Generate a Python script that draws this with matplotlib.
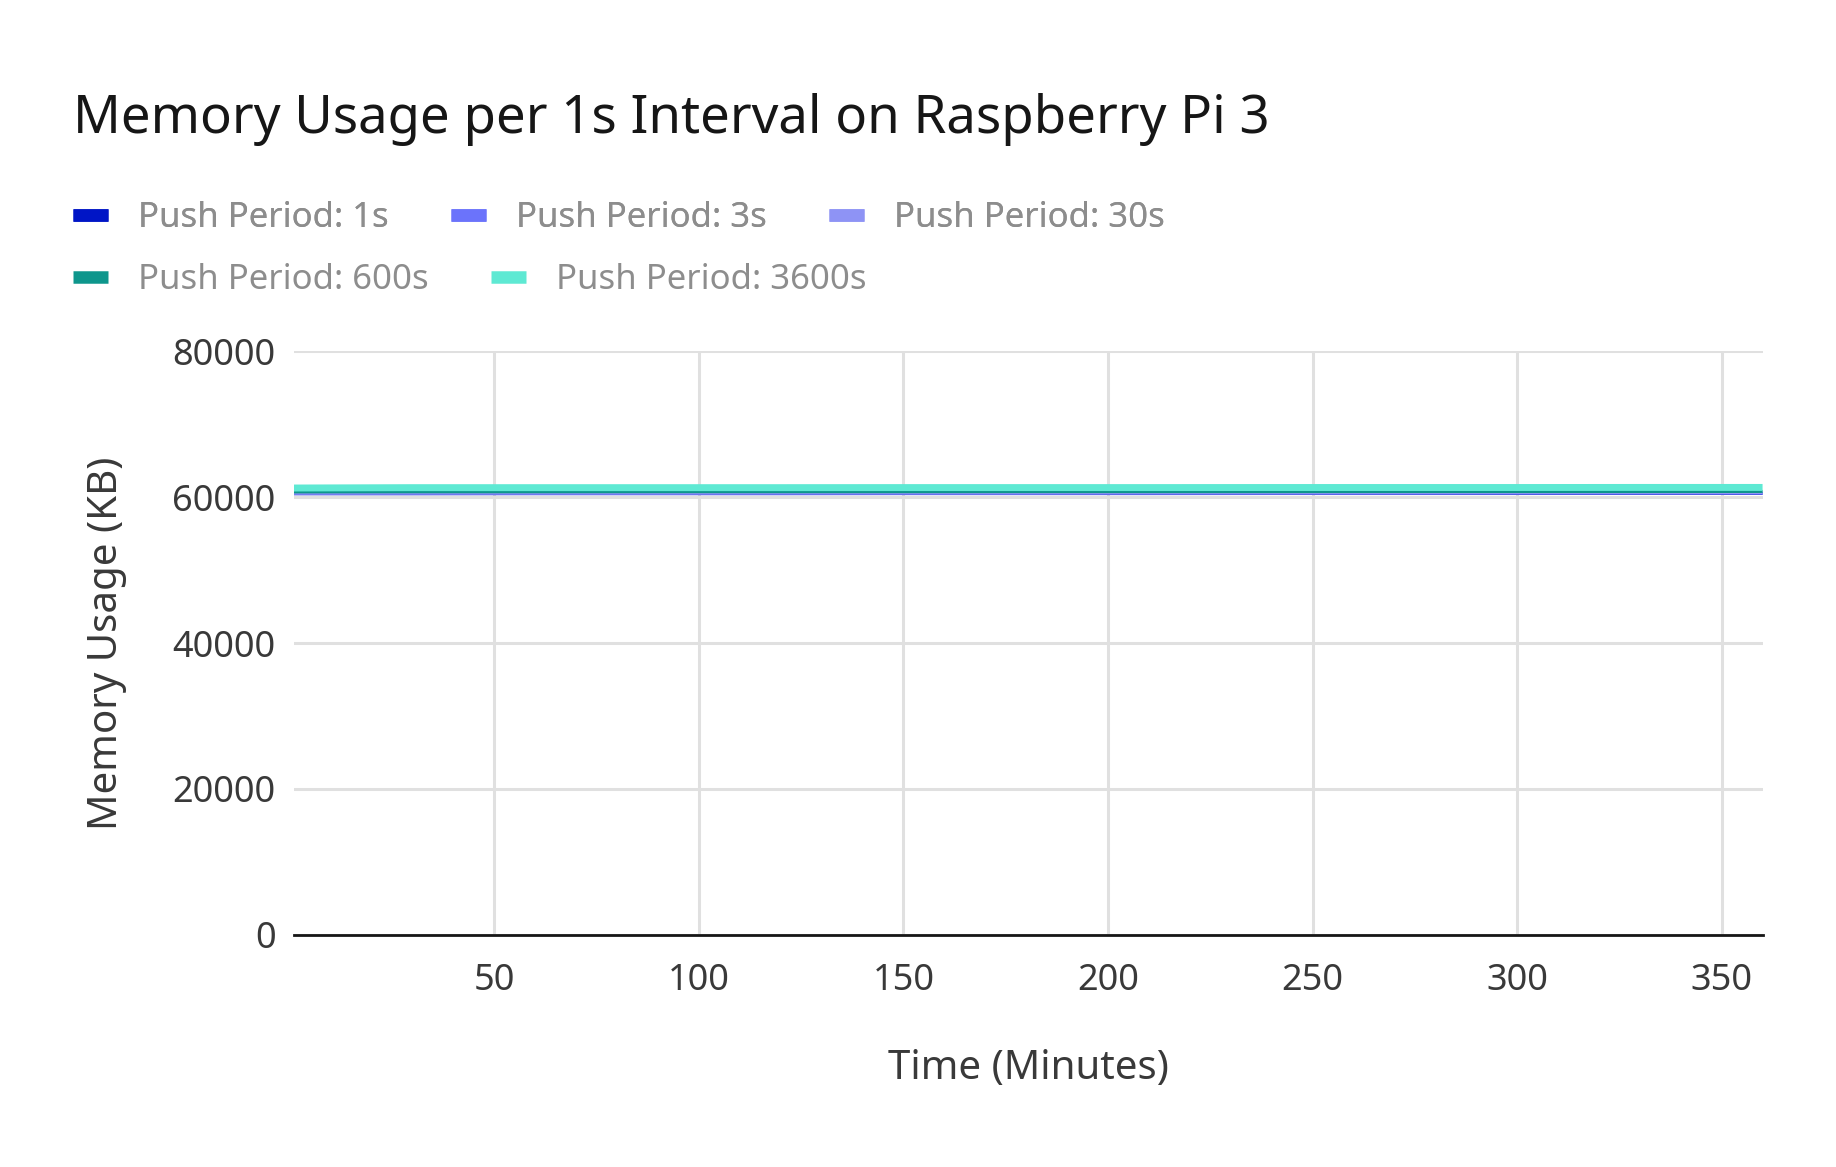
import matplotlib.pyplot as plt
from matplotlib.lines import Line2D

plt.rcParams['font.family'] = ['Noto Sans', 'DejaVu Sans']

# sample times (minutes) and memory usage readings (KB)
minutes = [1, 30, 60, 90, 120, 150, 180, 210, 240, 270, 300, 330, 360]
mem_1s = [60450, 60450, 60460, 60460, 60460, 60470, 60470, 60470, 60480, 60480, 60480, 60490, 60490]
mem_3s = [60500, 60510, 60510, 60510, 60520, 60520, 60520, 60530, 60530, 60530, 60540, 60540, 60540]
mem_30s = [60550, 60560, 60560, 60560, 60570, 60570, 60570, 60580, 60580, 60590, 60590, 60600, 60600]
mem_600s = [60720, 60740, 60740, 60750, 60750, 60750, 60760, 60760, 60760, 60770, 60770, 60770, 60780]
mem_3600s = [61250, 61300, 61300, 61300, 61300, 61310, 61310, 61310, 61320, 61320, 61320, 61330, 61330]

labels = ['Push Period: 1s', 'Push Period: 3s', 'Push Period: 30s',
          'Push Period: 600s', 'Push Period: 3600s']
colors = ['#0015c6', '#6b73fb', '#8e93f5', '#0e968c', '#5ee9d3']
series = [mem_1s, mem_3s, mem_30s, mem_600s, mem_3600s]
widths = [2.0, 2.0, 2.0, 2.2, 5.0]

fig = plt.figure(figsize=(18.36, 11.67), dpi=100)
ax = fig.add_axes([0.160, 0.199, 0.800, 0.500])

for vals, c, lw in zip(series, colors, widths):
    ax.plot(minutes, vals, color=c, linewidth=lw, solid_capstyle='butt')

ax.set_xlim(1, 360)
ax.set_ylim(0, 80000)
ax.set_xticks([50, 100, 150, 200, 250, 300, 350])
ax.set_yticks([0, 20000, 40000, 60000, 80000])
ax.grid(True, color='#e0e0e0', linewidth=2.2)
ax.set_axisbelow(True)
for s in ['top', 'right', 'left']:
    ax.spines[s].set_visible(False)
ax.spines['bottom'].set_color('#161616')
ax.spines['bottom'].set_linewidth(2.0)
ax.tick_params(length=0, labelsize=26, labelcolor='#393939')
ax.tick_params(axis='x', pad=20)
ax.tick_params(axis='y', pad=13)

ax.set_xlabel('Time (Minutes)', fontsize=29, color='#393939', labelpad=36)
ax.set_ylabel('Memory Usage (KB)', fontsize=29, color='#393939', labelpad=33)

fig.text(0.040, 0.898, 'Memory Usage per 1s Interval on Raspberry Pi 3',
         fontsize=38, color='#161616', va='center', ha='left')

handles = [Line2D([], [], color=c, linewidth=9, solid_capstyle='butt') for c in colors]
leg_kw = dict(frameon=False, fontsize=25, labelcolor='#8d8d8d', handlelength=1.0,
              handletextpad=0.87, columnspacing=1.8, borderaxespad=0, borderpad=0,
              loc='center left')
leg1 = fig.legend(handles[:3], labels[:3], ncol=3, bbox_to_anchor=(0.0397, 0.813), **leg_kw)
fig.add_artist(leg1)
fig.legend(handles[3:], labels[3:], ncol=2, bbox_to_anchor=(0.0397, 0.760), **leg_kw)

fig.savefig('out.png', dpi=100)
